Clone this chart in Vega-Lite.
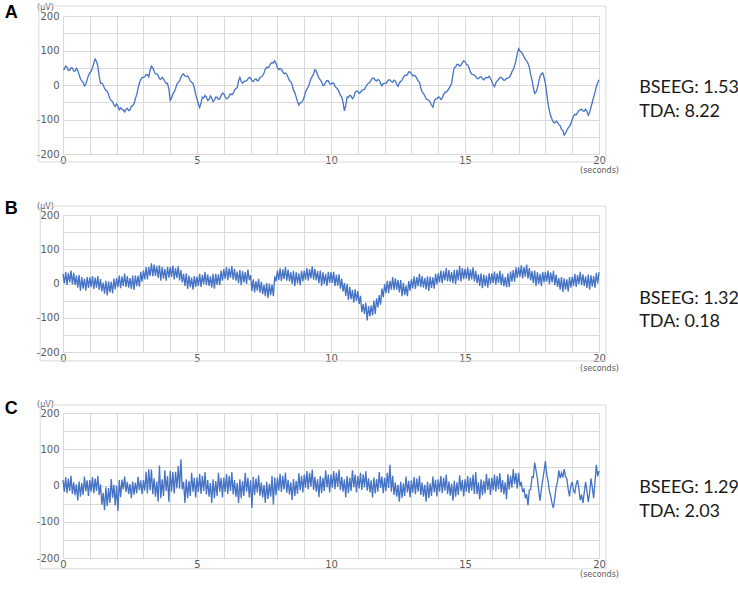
{
"$schema": "https://vega.github.io/schema/vega-lite/v6.json",
"padding": {"left": 4, "top": 3, "right": 0, "bottom": 0},
"background": "white",
"datasets": {"eeg": [
{"t":0,"a":45,"b":28,"c":15},{"t":0.05,"a":46,"b":0,"c":-17},{"t":0.1,"a":55,"b":34,"c":23},{"t":0.15,"a":52,"b":-4,"c":-21},{"t":0.2,"a":42,"b":31,"c":19},{"t":0.25,"a":43,"b":3,"c":-15},{"t":0.3,"a":50,"b":38,"c":27},{"t":0.35,"a":49,"b":-2,"c":-23},{"t":0.4,"a":40,"b":31,"c":9},{"t":0.45,"a":40,"b":-4,"c":-27},
{"t":0.5,"a":48,"b":23,"c":3},{"t":0.55,"a":42,"b":-12,"c":-41},{"t":0.6,"a":30,"b":25,"c":11},{"t":0.65,"a":18,"b":-21,"c":-31},{"t":0.7,"a":12,"b":19,"c":7},{"t":0.75,"a":8,"b":-15,"c":-26},{"t":0.8,"a":-3,"b":14,"c":25},{"t":0.85,"a":2,"b":-21,"c":-16},{"t":0.9,"a":15,"b":19,"c":14},{"t":0.95,"a":28,"b":-13,"c":-29},
{"t":1,"a":35,"b":18,"c":15},{"t":1.05,"a":40,"b":-11,"c":-17},{"t":1.1,"a":50,"b":22,"c":23},{"t":1.15,"a":64,"b":-16,"c":-21},{"t":1.2,"a":75,"b":17,"c":19},{"t":1.25,"a":68,"b":-12,"c":-15},{"t":1.3,"a":55,"b":22,"c":27},{"t":1.35,"a":25,"b":-19,"c":-26},{"t":1.4,"a":5,"b":13,"c":3},{"t":1.45,"a":6,"b":-23,"c":-53},
{"t":1.5,"a":0,"b":3,"c":-20},{"t":1.55,"a":-10,"b":-30,"c":-68},{"t":1.6,"a":-15,"b":8,"c":-5},{"t":1.65,"a":-18,"b":-35,"c":-57},{"t":1.7,"a":-28,"b":6,"c":-7},{"t":1.75,"a":-40,"b":-26,"c":-48},{"t":1.8,"a":-45,"b":5,"c":18},{"t":1.85,"a":-48,"b":-29,"c":-34},{"t":1.9,"a":-58,"b":14,"c":2},{"t":1.95,"a":-62,"b":-17,"c":-55},
{"t":2,"a":-55,"b":16,"c":0},{"t":2.05,"a":-60,"b":-11,"c":-70},{"t":2.1,"a":-72,"b":23,"c":15},{"t":2.15,"a":-66,"b":-14,"c":-32},{"t":2.2,"a":-70,"b":21,"c":16},{"t":2.25,"a":-72,"b":-7,"c":-11},{"t":2.3,"a":-78,"b":29,"c":25},{"t":2.35,"a":-70,"b":-10,"c":-18},{"t":2.4,"a":-68,"b":22,"c":10},{"t":2.45,"a":-74,"b":-12,"c":-23},
{"t":2.5,"a":-72,"b":16,"c":4},{"t":2.55,"a":-62,"b":-16,"c":-35},{"t":2.6,"a":-60,"b":23,"c":11},{"t":2.65,"a":-54,"b":-19,"c":-25},{"t":2.7,"a":-40,"b":23,"c":8},{"t":2.75,"a":-28,"b":-8,"c":-21},{"t":2.8,"a":-10,"b":23,"c":24},{"t":2.85,"a":5,"b":-9,"c":-13},{"t":2.9,"a":15,"b":34,"c":14},{"t":2.95,"a":22,"b":5,"c":-24},
{"t":3,"a":22,"b":38,"c":15},{"t":3.05,"a":24,"b":12,"c":-14},{"t":3.1,"a":30,"b":48,"c":38},{"t":3.15,"a":30,"b":12,"c":-22},{"t":3.2,"a":24,"b":48,"c":45},{"t":3.25,"a":42,"b":22,"c":-13},{"t":3.3,"a":55,"b":59,"c":44},{"t":3.35,"a":50,"b":21,"c":-24},{"t":3.4,"a":40,"b":55,"c":20},{"t":3.45,"a":32,"b":22,"c":-31},
{"t":3.5,"a":32,"b":51,"c":11},{"t":3.55,"a":27,"b":16,"c":-45},{"t":3.6,"a":18,"b":53,"c":55},{"t":3.65,"a":16,"b":8,"c":-35},{"t":3.7,"a":22,"b":48,"c":17},{"t":3.75,"a":18,"b":14,"c":-29},{"t":3.8,"a":10,"b":43,"c":42},{"t":3.85,"a":4,"b":8,"c":-15},{"t":3.9,"a":5,"b":49,"c":26},{"t":3.95,"a":-12,"b":17,"c":-45},
{"t":4,"a":-45,"b":48,"c":40},{"t":4.05,"a":-38,"b":19,"c":-17},{"t":4.1,"a":-25,"b":52,"c":38},{"t":4.15,"a":-20,"b":12,"c":-22},{"t":4.2,"a":-10,"b":45,"c":38},{"t":4.25,"a":2,"b":16,"c":-8},{"t":4.3,"a":8,"b":50,"c":54},{"t":4.35,"a":12,"b":9,"c":-9},{"t":4.4,"a":22,"b":39,"c":72},{"t":4.45,"a":30,"b":3,"c":-11},
{"t":4.5,"a":32,"b":29,"c":10},{"t":4.55,"a":26,"b":-7,"c":-48},{"t":4.6,"a":25,"b":30,"c":17},{"t":4.65,"a":26,"b":-16,"c":-35},{"t":4.7,"a":20,"b":23,"c":12},{"t":4.75,"a":11,"b":-11,"c":-29},{"t":4.8,"a":8,"b":17,"c":35},{"t":4.85,"a":4,"b":-18,"c":-17},{"t":4.9,"a":-8,"b":22,"c":21},{"t":4.95,"a":-28,"b":-10,"c":-33},
{"t":5,"a":-40,"b":20,"c":22},{"t":5.05,"a":-55,"b":-7,"c":-18},{"t":5.1,"a":-65,"b":28,"c":32},{"t":5.15,"a":-52,"b":-10,"c":-23},{"t":5.2,"a":-35,"b":25,"c":27},{"t":5.25,"a":-38,"b":-2,"c":-15},{"t":5.3,"a":-30,"b":34,"c":37},{"t":5.35,"a":-35,"b":-5,"c":-25},{"t":5.4,"a":-45,"b":27,"c":15},{"t":5.45,"a":-42,"b":-7,"c":-31},
{"t":5.5,"a":-32,"b":21,"c":7},{"t":5.55,"a":-38,"b":-12,"c":-48},{"t":5.6,"a":-48,"b":28,"c":17},{"t":5.65,"a":-44,"b":-15,"c":-35},{"t":5.7,"a":-35,"b":28,"c":12},{"t":5.75,"a":-36,"b":-4,"c":-29},{"t":5.8,"a":-42,"b":27,"c":35},{"t":5.85,"a":-40,"b":-5,"c":-17},{"t":5.9,"a":-30,"b":38,"c":21},{"t":5.95,"a":-24,"b":8,"c":-33},
{"t":6,"a":-25,"b":42,"c":22},{"t":6.05,"a":-34,"b":14,"c":-18},{"t":6.1,"a":-40,"b":48,"c":32},{"t":6.15,"a":-38,"b":10,"c":-23},{"t":6.2,"a":-32,"b":44,"c":27},{"t":6.25,"a":-26,"b":16,"c":-15},{"t":6.3,"a":-28,"b":51,"c":37},{"t":6.35,"a":-24,"b":11,"c":-25},{"t":6.4,"a":-15,"b":43,"c":15},{"t":6.45,"a":-10,"b":8,"c":-31},
{"t":6.5,"a":-8,"b":35,"c":7},{"t":6.55,"a":12,"b":1,"c":-48},{"t":6.6,"a":22,"b":39,"c":17},{"t":6.65,"a":10,"b":-5,"c":-35},{"t":6.7,"a":5,"b":36,"c":12},{"t":6.75,"a":10,"b":3,"c":-29},{"t":6.8,"a":12,"b":33,"c":35},{"t":6.85,"a":12,"b":-1,"c":-17},{"t":6.9,"a":18,"b":41,"c":21},{"t":6.95,"a":22,"b":10,"c":-33},
{"t":7,"a":20,"b":24,"c":14},{"t":7.05,"a":12,"b":-22,"c":-62},{"t":7.1,"a":10,"b":12,"c":24},{"t":7.15,"a":16,"b":-26,"c":-26},{"t":7.2,"a":18,"b":7,"c":19},{"t":7.25,"a":12,"b":-21,"c":-19},{"t":7.3,"a":14,"b":14,"c":28},{"t":7.35,"a":22,"b":-27,"c":-28},{"t":7.4,"a":24,"b":5,"c":8},{"t":7.45,"a":27,"b":-31,"c":-33},
{"t":7.5,"a":35,"b":-4,"c":1},{"t":7.55,"a":46,"b":-37,"c":-48},{"t":7.6,"a":52,"b":1,"c":10},{"t":7.65,"a":50,"b":-42,"c":-37},{"t":7.7,"a":55,"b":-1,"c":5},{"t":7.75,"a":62,"b":-34,"c":-31},{"t":7.8,"a":65,"b":-3,"c":26},{"t":7.85,"a":64,"b":-37,"c":-52},{"t":7.9,"a":70,"b":21,"c":22},{"t":7.95,"a":62,"b":6,"c":-27},
{"t":8,"a":50,"b":38,"c":22},{"t":8.05,"a":45,"b":10,"c":-14},{"t":8.1,"a":48,"b":44,"c":32},{"t":8.15,"a":46,"b":7,"c":-18},{"t":8.2,"a":38,"b":41,"c":27},{"t":8.25,"a":33,"b":13,"c":-11},{"t":8.3,"a":35,"b":48,"c":36},{"t":8.35,"a":31,"b":8,"c":-20},{"t":8.4,"a":22,"b":41,"c":16},{"t":8.45,"a":13,"b":6,"c":-25},
{"t":8.5,"a":10,"b":33,"c":9},{"t":8.55,"a":0,"b":-1,"c":-40},{"t":8.6,"a":-15,"b":37,"c":18},{"t":8.65,"a":-22,"b":-8,"c":-29},{"t":8.7,"a":-35,"b":33,"c":13},{"t":8.75,"a":-48,"b":0,"c":-23},{"t":8.8,"a":-58,"b":30,"c":34},{"t":8.85,"a":-52,"b":-5,"c":-13},{"t":8.9,"a":-50,"b":37,"c":27},{"t":8.95,"a":-45,"b":6,"c":-19},
{"t":9,"a":-35,"b":38,"c":30},{"t":9.05,"a":-20,"b":11,"c":-6},{"t":9.1,"a":-12,"b":45,"c":40},{"t":9.15,"a":-6,"b":8,"c":-10},{"t":9.2,"a":5,"b":42,"c":35},{"t":9.25,"a":18,"b":15,"c":-3},{"t":9.3,"a":25,"b":50,"c":44},{"t":9.35,"a":32,"b":11,"c":-12},{"t":9.4,"a":44,"b":43,"c":24},{"t":9.45,"a":40,"b":9,"c":-17},
{"t":9.5,"a":30,"b":36,"c":17},{"t":9.55,"a":20,"b":1,"c":-32},{"t":9.6,"a":15,"b":38,"c":26},{"t":9.65,"a":10,"b":-7,"c":-21},{"t":9.7,"a":-2,"b":33,"c":21},{"t":9.75,"a":0,"b":-1,"c":-15},{"t":9.8,"a":8,"b":28,"c":42},{"t":9.85,"a":13,"b":-7,"c":-5},{"t":9.9,"a":12,"b":34,"c":30},{"t":9.95,"a":4,"b":2,"c":-19},
{"t":10,"a":2,"b":33,"c":30},{"t":10.05,"a":6,"b":2,"c":-6},{"t":10.1,"a":5,"b":34,"c":40},{"t":10.15,"a":-4,"b":-7,"c":-10},{"t":10.2,"a":-8,"b":25,"c":35},{"t":10.25,"a":-12,"b":-6,"c":-3},{"t":10.3,"a":-20,"b":27,"c":44},{"t":10.35,"a":-30,"b":-15,"c":-12},{"t":10.4,"a":-35,"b":14,"c":24},{"t":10.45,"a":-50,"b":-23,"c":-17},
{"t":10.5,"a":-75,"b":1,"c":17},{"t":10.55,"a":-60,"b":-36,"c":-32},{"t":10.6,"a":-35,"b":-1,"c":26},{"t":10.65,"a":-36,"b":-48,"c":-21},{"t":10.7,"a":-30,"b":-10,"c":21},{"t":10.75,"a":-32,"b":-46,"c":-15},{"t":10.8,"a":-40,"b":-19,"c":42},{"t":10.85,"a":-34,"b":-56,"c":-5},{"t":10.9,"a":-22,"b":-17,"c":30},{"t":10.95,"a":-17,"b":-51,"c":-19},
{"t":11,"a":-18,"b":-22,"c":26},{"t":11.05,"a":-24,"b":-60,"c":-8},{"t":11.1,"a":-22,"b":-36,"c":35},{"t":11.15,"a":-15,"b":-84,"c":-12},{"t":11.2,"a":-14,"b":-60,"c":31},{"t":11.25,"a":-12,"b":-89,"c":-5},{"t":11.3,"a":-5,"b":-56,"c":39},{"t":11.35,"a":2,"b":-108,"c":-14},{"t":11.4,"a":5,"b":-66,"c":20},{"t":11.45,"a":8,"b":-96,"c":-19},
{"t":11.5,"a":15,"b":-64,"c":14},{"t":11.55,"a":20,"b":-93,"c":-33},{"t":11.6,"a":20,"b":-50,"c":22},{"t":11.65,"a":14,"b":-89,"c":-22},{"t":11.7,"a":12,"b":-43,"c":18},{"t":11.75,"a":16,"b":-70,"c":-17},{"t":11.8,"a":14,"b":-34,"c":37},{"t":11.85,"a":4,"b":-62,"c":-7},{"t":11.9,"a":-2,"b":-15,"c":25},{"t":11.95,"a":4,"b":-40,"c":-21},
{"t":12,"a":5,"b":-2,"c":21},{"t":12.05,"a":5,"b":-28,"c":-16},{"t":12.1,"a":10,"b":8,"c":35},{"t":12.15,"a":15,"b":-28,"c":-7},{"t":12.2,"a":15,"b":8,"c":57},{"t":12.25,"a":10,"b":-18,"c":-17},{"t":12.3,"a":8,"b":19,"c":27},{"t":12.35,"a":14,"b":-19,"c":-26},{"t":12.4,"a":12,"b":15,"c":8},{"t":12.45,"a":2,"b":-18,"c":-31},
{"t":12.5,"a":-4,"b":11,"c":2},{"t":12.55,"a":6,"b":-26,"c":-45},{"t":12.6,"a":10,"b":10,"c":10},{"t":12.65,"a":14,"b":-37,"c":-34},{"t":12.7,"a":22,"b":2,"c":6},{"t":12.75,"a":28,"b":-34,"c":-29},{"t":12.8,"a":28,"b":-6,"c":25},{"t":12.85,"a":30,"b":-37,"c":-19},{"t":12.9,"a":38,"b":7,"c":13},{"t":12.95,"a":38,"b":-21,"c":-33},
{"t":13,"a":32,"b":13,"c":14},{"t":13.05,"a":27,"b":-14,"c":-20},{"t":13.1,"a":28,"b":21,"c":23},{"t":13.15,"a":26,"b":-16,"c":-24},{"t":13.2,"a":20,"b":19,"c":19},{"t":13.25,"a":12,"b":-8,"c":-17},{"t":13.3,"a":8,"b":28,"c":27},{"t":13.35,"a":-8,"b":-11,"c":-26},{"t":13.4,"a":-20,"b":22,"c":8},{"t":13.45,"a":-24,"b":-12,"c":-31},
{"t":13.5,"a":-32,"b":16,"c":2},{"t":13.55,"a":-40,"b":-17,"c":-45},{"t":13.6,"a":-42,"b":21,"c":10},{"t":13.65,"a":-44,"b":-22,"c":-34},{"t":13.7,"a":-50,"b":20,"c":6},{"t":13.75,"a":-58,"b":-13,"c":-29},{"t":13.8,"a":-64,"b":18,"c":25},{"t":13.85,"a":-48,"b":-15,"c":-19},{"t":13.9,"a":-40,"b":28,"c":16},{"t":13.95,"a":-40,"b":-3,"c":-30},
{"t":14,"a":-35,"b":30,"c":17},{"t":14.05,"a":-36,"b":3,"c":-17},{"t":14.1,"a":-42,"b":38,"c":26},{"t":14.15,"a":-38,"b":1,"c":-21},{"t":14.2,"a":-28,"b":36,"c":22},{"t":14.25,"a":-22,"b":9,"c":-14},{"t":14.3,"a":-20,"b":45,"c":30},{"t":14.35,"a":-17,"b":6,"c":-23},{"t":14.4,"a":-10,"b":39,"c":11},{"t":14.45,"a":-4,"b":5,"c":-28},
{"t":14.5,"a":5,"b":33,"c":5},{"t":14.55,"a":30,"b":1,"c":-42},{"t":14.6,"a":50,"b":40,"c":13},{"t":14.65,"a":52,"b":-2,"c":-31},{"t":14.7,"a":60,"b":41,"c":9},{"t":14.75,"a":60,"b":9,"c":-26},{"t":14.8,"a":55,"b":52,"c":28},{"t":14.85,"a":58,"b":5,"c":-16},{"t":14.9,"a":65,"b":45,"c":16},{"t":14.95,"a":70,"b":13,"c":-30},
{"t":15,"a":68,"b":43,"c":17},{"t":15.05,"a":60,"b":14,"c":-17},{"t":15.1,"a":58,"b":47,"c":26},{"t":15.15,"a":50,"b":8,"c":-21},{"t":15.2,"a":38,"b":41,"c":22},{"t":15.25,"a":32,"b":12,"c":-14},{"t":15.3,"a":30,"b":47,"c":30},{"t":15.35,"a":29,"b":6,"c":-23},{"t":15.4,"a":24,"b":37,"c":37},{"t":15.45,"a":19,"b":1,"c":-24},
{"t":15.5,"a":18,"b":27,"c":9},{"t":15.55,"a":23,"b":-7,"c":-38},{"t":15.6,"a":24,"b":30,"c":17},{"t":15.65,"a":18,"b":-14,"c":-27},{"t":15.7,"a":15,"b":26,"c":13},{"t":15.75,"a":20,"b":-7,"c":-22},{"t":15.8,"a":22,"b":23,"c":32},{"t":15.85,"a":21,"b":-12,"c":-12},{"t":15.9,"a":25,"b":30,"c":20},{"t":15.95,"a":19,"b":-2,"c":-26},
{"t":16,"a":10,"b":30,"c":21},{"t":16.05,"a":0,"b":2,"c":-13},{"t":16.1,"a":-5,"b":35,"c":30},{"t":16.15,"a":6,"b":-3,"c":-17},{"t":16.2,"a":12,"b":30,"c":26},{"t":16.25,"a":16,"b":2,"c":-10},{"t":16.3,"a":22,"b":37,"c":34},{"t":16.35,"a":22,"b":-4,"c":-19},{"t":16.4,"a":18,"b":28,"c":15},{"t":16.45,"a":14,"b":-8,"c":-24},
{"t":16.5,"a":15,"b":19,"c":9},{"t":16.55,"a":19,"b":-11,"c":-38},{"t":16.6,"a":20,"b":30,"c":31},{"t":16.65,"a":22,"b":-10,"c":-11},{"t":16.7,"a":28,"b":35,"c":27},{"t":16.75,"a":38,"b":5,"c":-6},{"t":16.8,"a":45,"b":39,"c":45},{"t":16.85,"a":56,"b":5,"c":4},{"t":16.9,"a":70,"b":47,"c":34},{"t":16.95,"a":90,"b":16,"c":-9},
{"t":17,"a":105,"b":47,"c":35},{"t":17.05,"a":98,"b":19,"c":-2},{"t":17.1,"a":95,"b":53,"c":10},{"t":17.15,"a":90,"b":15,"c":-18},{"t":17.2,"a":82,"b":48,"c":-8},{"t":17.25,"a":74,"b":20,"c":-35},{"t":17.3,"a":70,"b":55,"c":-24},{"t":17.35,"a":63,"b":14,"c":-54},{"t":17.4,"a":52,"b":45,"c":-13},{"t":17.45,"a":30,"b":9,"c":-11},
{"t":17.5,"a":15,"b":36,"c":24},{"t":17.55,"a":-8,"b":1,"c":22},{"t":17.6,"a":-25,"b":38,"c":63},{"t":17.65,"a":-20,"b":-7,"c":42},{"t":17.7,"a":-10,"b":33,"c":20},{"t":17.75,"a":10,"b":-1,"c":-15},{"t":17.8,"a":25,"b":28,"c":-42},{"t":17.85,"a":32,"b":-7,"c":-10},{"t":17.9,"a":35,"b":34,"c":15},{"t":17.95,"a":22,"b":3,"c":40},
{"t":18,"a":5,"b":34,"c":67},{"t":18.05,"a":-25,"b":5,"c":30},{"t":18.1,"a":-55,"b":38,"c":12},{"t":18.15,"a":-75,"b":-1,"c":-15},{"t":18.2,"a":-90,"b":32,"c":-30},{"t":18.25,"a":-100,"b":3,"c":-50},{"t":18.3,"a":-108,"b":37,"c":-62},{"t":18.35,"a":-110,"b":-5,"c":-35},{"t":18.4,"a":-105,"b":26,"c":-5},{"t":18.45,"a":-108,"b":-10,"c":10},
{"t":18.5,"a":-115,"b":16,"c":42},{"t":18.55,"a":-118,"b":-18,"c":20},{"t":18.6,"a":-128,"b":19,"c":35},{"t":18.65,"a":-132,"b":-25,"c":22},{"t":18.7,"a":-145,"b":15,"c":45},{"t":18.75,"a":-140,"b":-18,"c":25},{"t":18.8,"a":-132,"b":12,"c":19},{"t":18.85,"a":-124,"b":-23,"c":-10},{"t":18.9,"a":-120,"b":19,"c":-30},{"t":18.95,"a":-112,"b":-12,"c":0},
{"t":19,"a":-100,"b":20,"c":10},{"t":19.05,"a":-90,"b":-7,"c":-15},{"t":19.1,"a":-85,"b":28,"c":-20},{"t":19.15,"a":-86,"b":-10,"c":5},{"t":19.2,"a":-80,"b":25,"c":15},{"t":19.25,"a":-74,"b":-2,"c":-10},{"t":19.3,"a":-72,"b":34,"c":-40},{"t":19.35,"a":-70,"b":-5,"c":-25},{"t":19.4,"a":-75,"b":27,"c":-49},{"t":19.45,"a":-76,"b":-7,"c":-20},
{"t":19.5,"a":-70,"b":21,"c":10},{"t":19.55,"a":-76,"b":-13,"c":-15},{"t":19.6,"a":-88,"b":26,"c":-45},{"t":19.65,"a":-80,"b":-18,"c":-20},{"t":19.7,"a":-65,"b":24,"c":20},{"t":19.75,"a":-50,"b":-9,"c":-5},{"t":19.8,"a":-35,"b":22,"c":-35},{"t":19.85,"a":-22,"b":-12,"c":10},{"t":19.9,"a":-5,"b":31,"c":57},{"t":19.95,"a":6,"b":0,"c":25},
{"t":20,"a":15,"b":33,"c":40}
]},
"spacing": 61,
"bounds": "flush",
"vconcat": [
{"width": 536, "height": 138,
 "layer": [
  {"data": {"name": "eeg"}, "mark": {"type": "line", "color": "#4472C4", "strokeWidth": 1.3},
   "encoding": {
    "x": {"field": "t", "type": "quantitative", "scale": {"domain": [0, 20], "nice": false},
      "axis": {"labelExpr": "datum.value % 5 === 0 ? '' + datum.value : ''", "labelOverlap": false, "labelFlush": false, "labelPadding": 1, "title": "(seconds)", "titleX": 536, "titleY": 12, "titleAlign": "center", "titleBaseline": "top", "titleFontSize": 8}},
    "y": {"field": "a", "type": "quantitative", "scale": {"domain": [-200, 200], "nice": false},
      "axis": {"labelExpr": "datum.value % 100 === 0 ? '' + datum.value : ''", "labelOverlap": false, "labelPadding": 4, "title": "(µV)", "titleAngle": 0, "titleX": -18, "titleY": -7, "titleAlign": "center", "titleBaseline": "alphabetic", "titleFontSize": 8}}
   }},
  {"data": {"values": [{}]}, "mark": {"type": "rect", "fillOpacity": 0, "stroke": "#d9d9d9", "strokeWidth": 1}, "encoding": {"x": {"datum": -0.9}, "x2": {"datum": 20.26}, "y": {"datum": 229}, "y2": {"datum": -223}}},
  {"data": {"values": [{}]}, "mark": {"type": "text", "text": "A", "font": "Liberation Sans", "fontWeight": "bold", "fontSize": 18, "align": "left", "baseline": "middle", "color": "#000000"}, "encoding": {"x": {"datum": -2.17}, "y": {"datum": 208}}},
  {"data": {"values": [{}]}, "mark": {"type": "text", "text": ["BSEEG: 1.53", "TDA: 8.22"], "font": "Lato", "fontSize": 18, "lineHeight": 23.5, "align": "left", "baseline": "middle", "color": "#1a1a1a"}, "encoding": {"x": {"datum": 21.5}, "y": {"datum": -9}}}
 ]},
{"width": 536, "height": 137,
 "layer": [
  {"data": {"name": "eeg"}, "mark": {"type": "line", "color": "#4472C4", "strokeWidth": 1.3},
   "encoding": {
    "x": {"field": "t", "type": "quantitative", "scale": {"domain": [0, 20], "nice": false},
      "axis": {"labelExpr": "datum.value % 5 === 0 ? '' + datum.value : ''", "labelOverlap": false, "labelFlush": false, "labelPadding": 1, "title": "(seconds)", "titleX": 536, "titleY": 12, "titleAlign": "center", "titleBaseline": "top", "titleFontSize": 8}},
    "y": {"field": "b", "type": "quantitative", "scale": {"domain": [-200, 200], "nice": false},
      "axis": {"labelExpr": "datum.value % 100 === 0 ? '' + datum.value : ''", "labelOverlap": false, "labelPadding": 4, "title": "(µV)", "titleAngle": 0, "titleX": -18, "titleY": -7, "titleAlign": "center", "titleBaseline": "alphabetic", "titleFontSize": 8}}
   }},
  {"data": {"values": [{}]}, "mark": {"type": "rect", "fillOpacity": 0, "stroke": "#d9d9d9", "strokeWidth": 1}, "encoding": {"x": {"datum": -0.85}, "x2": {"datum": 20.26}, "y": {"datum": 226}, "y2": {"datum": -226}}},
  {"data": {"values": [{}]}, "mark": {"type": "text", "text": "B", "font": "Liberation Sans", "fontWeight": "bold", "fontSize": 18, "align": "left", "baseline": "middle", "color": "#000000"}, "encoding": {"x": {"datum": -2.17}, "y": {"datum": 218}}},
  {"data": {"values": [{}]}, "mark": {"type": "text", "text": ["BSEEG: 1.32", "TDA: 0.18"], "font": "Lato", "fontSize": 18, "lineHeight": 23.5, "align": "left", "baseline": "middle", "color": "#1a1a1a"}, "encoding": {"x": {"datum": 21.5}, "y": {"datum": -44}}}
 ]},
{"width": 536, "height": 145,
 "layer": [
  {"data": {"name": "eeg"}, "mark": {"type": "line", "color": "#4472C4", "strokeWidth": 1.3},
   "encoding": {
    "x": {"field": "t", "type": "quantitative", "scale": {"domain": [0, 20], "nice": false},
      "axis": {"labelExpr": "datum.value % 5 === 0 ? '' + datum.value : ''", "labelOverlap": false, "labelFlush": false, "labelPadding": 1, "title": "(seconds)", "titleX": 536, "titleY": 12, "titleAlign": "center", "titleBaseline": "top", "titleFontSize": 8}},
    "y": {"field": "c", "type": "quantitative", "scale": {"domain": [-200, 200], "nice": false},
      "axis": {"labelExpr": "datum.value % 100 === 0 ? '' + datum.value : ''", "labelOverlap": false, "labelPadding": 4, "title": "(µV)", "titleAngle": 0, "titleX": -18, "titleY": -7, "titleAlign": "center", "titleBaseline": "alphabetic", "titleFontSize": 8}}
   }},
  {"data": {"values": [{}]}, "mark": {"type": "rect", "fillOpacity": 0, "stroke": "#d9d9d9", "strokeWidth": 1}, "encoding": {"x": {"datum": -0.85}, "x2": {"datum": 20.26}, "y": {"datum": 222}, "y2": {"datum": -230}}},
  {"data": {"values": [{}]}, "mark": {"type": "text", "text": "C", "font": "Liberation Sans", "fontWeight": "bold", "fontSize": 18, "align": "left", "baseline": "middle", "color": "#000000"}, "encoding": {"x": {"datum": -2.17}, "y": {"datum": 211}}},
  {"data": {"values": [{}]}, "mark": {"type": "text", "text": ["BSEEG: 1.29", "TDA: 2.03"], "font": "Lato", "fontSize": 18, "lineHeight": 23.5, "align": "left", "baseline": "middle", "color": "#1a1a1a"}, "encoding": {"x": {"datum": 21.5}, "y": {"datum": -8}}}
 ]}
],
"config": {
  "view": {"stroke": null},
  "axis": {"grid": true, "gridColor": "#d9d9d9", "gridWidth": 1, "domain": false, "ticks": false, "labelFont": "DejaVu Sans", "labelFontSize": 10, "labelColor": "#595959", "titleFont": "DejaVu Sans", "titleFontWeight": "normal", "titleColor": "#595959"},
  "axisX": {"tickCount": 20},
  "axisY": {"tickCount": 8}
}
}
